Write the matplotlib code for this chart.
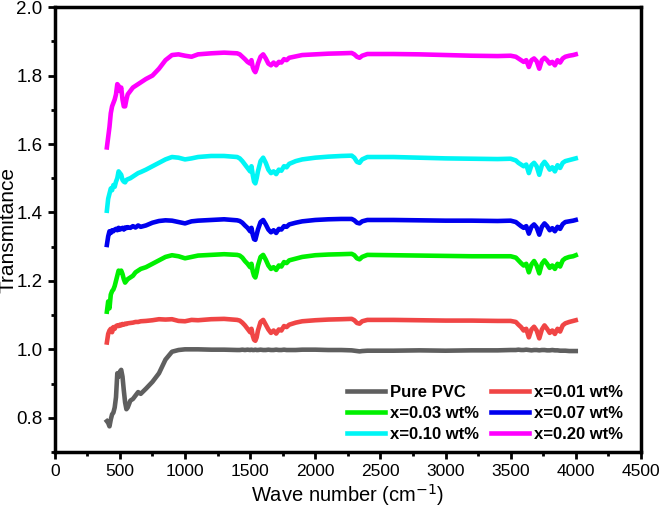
import matplotlib
matplotlib.use("Agg")
import matplotlib.pyplot as plt

plt.rcParams['font.family'] = ['Liberation Sans', 'DejaVu Sans']

# wave numbers (cm-1), shared by all spectra
wn_low = [400, 410, 420, 430, 440, 450, 460, 470, 480, 490, 500, 510, 520, 530,
          540, 550, 560, 580, 600, 620, 640, 660, 700, 750, 800, 850, 900, 950,
          1000, 1050, 1100, 1200, 1300, 1400]
wn_band1 = [1420, 1440, 1460, 1480, 1500, 1510, 1520, 1530, 1540, 1550, 1560, 1580,
            1600, 1620, 1640, 1660, 1680, 1700, 1720, 1740, 1760, 1780, 1800]
wn_mid = [1850, 1900, 2000, 2100, 2200, 2280, 2300, 2320, 2340, 2360, 2400, 2600,
          2800, 3000, 3200, 3400, 3500]
wn_band2 = [3540, 3560, 3580, 3600, 3620, 3640, 3660, 3680, 3700, 3720, 3740, 3760,
            3780, 3800, 3820, 3840, 3860, 3880, 3900, 3920, 3950, 3980, 4000]
wave = wn_low + wn_band1 + wn_mid + wn_band2

pure_pvc = ([0.79, 0.785, 0.775, 0.795, 0.81, 0.815, 0.83, 0.86, 0.93, 0.92, 0.935, 0.94,
             0.92, 0.88, 0.845, 0.825, 0.83, 0.85, 0.855, 0.865, 0.875, 0.87, 0.885, 0.905,
             0.93, 0.97, 0.993, 0.998, 1.0, 1.0, 1.0, 0.999, 0.999, 0.998]
            + [0.998, 0.999, 0.998, 0.999, 0.998, 0.999, 0.998, 0.998, 0.999, 0.998, 0.998,
               0.999, 0.998, 0.998, 0.999, 0.998, 0.998, 0.999, 0.998, 0.998, 0.999, 0.998, 0.998]
            + [0.998, 0.999, 0.999, 0.998, 0.998, 0.997, 0.996, 0.995, 0.994, 0.995, 0.996,
               0.996, 0.997, 0.996, 0.997, 0.997, 0.998]
            + [0.998, 0.999, 0.998, 0.998, 0.999, 0.998, 0.997, 0.998, 0.998, 0.997, 0.998,
               0.998, 0.997, 0.997, 0.998, 0.997, 0.997, 0.996, 0.996, 0.996, 0.995, 0.995, 0.995])

x001 = ([1.02, 1.045, 1.055, 1.06, 1.05, 1.065, 1.06, 1.068, 1.07, 1.068, 1.072, 1.07,
         1.074, 1.072, 1.075, 1.074, 1.076, 1.077, 1.078, 1.08, 1.08, 1.082, 1.083, 1.085,
         1.088, 1.087, 1.088, 1.083, 1.082, 1.086, 1.085, 1.088, 1.089, 1.086]
        + [1.084, 1.078, 1.07, 1.06, 1.05, 1.06, 1.04, 1.028, 1.025, 1.035, 1.055, 1.08,
           1.086, 1.072, 1.058, 1.048, 1.055, 1.046, 1.058, 1.055, 1.068, 1.065, 1.072]
        + [1.078, 1.082, 1.085, 1.087, 1.088, 1.089, 1.085, 1.077, 1.075, 1.082, 1.086,
           1.086, 1.085, 1.084, 1.084, 1.083, 1.083]
        + [1.08, 1.072, 1.065, 1.055, 1.06, 1.035, 1.058, 1.066, 1.055, 1.032, 1.058, 1.07,
           1.06, 1.048, 1.055, 1.045, 1.06, 1.052, 1.07, 1.076, 1.08, 1.083, 1.085])

x003 = ([1.11, 1.14, 1.12, 1.16, 1.17, 1.175, 1.185, 1.2, 1.215, 1.23, 1.225, 1.23,
         1.22, 1.205, 1.195, 1.2, 1.205, 1.21, 1.215, 1.225, 1.23, 1.235, 1.24, 1.25,
         1.26, 1.27, 1.275, 1.272, 1.266, 1.27, 1.274, 1.276, 1.278, 1.276]
        + [1.274, 1.268, 1.258, 1.25, 1.24, 1.25, 1.228, 1.215, 1.21, 1.225, 1.245, 1.27,
           1.276, 1.262, 1.245, 1.235, 1.24, 1.232, 1.245, 1.242, 1.255, 1.252, 1.26]
        + [1.265, 1.27, 1.275, 1.277, 1.278, 1.279, 1.275, 1.266, 1.263, 1.27, 1.276,
           1.275, 1.274, 1.273, 1.272, 1.272, 1.272]
        + [1.268, 1.26, 1.252, 1.245, 1.25, 1.225, 1.248, 1.258, 1.245, 1.222, 1.25, 1.26,
           1.25, 1.238, 1.245, 1.235, 1.25, 1.242, 1.26, 1.266, 1.27, 1.272, 1.275])

x007 = ([1.305, 1.33, 1.345, 1.34, 1.348, 1.345, 1.35, 1.352, 1.348, 1.355, 1.35, 1.352,
         1.355, 1.35, 1.356, 1.354, 1.357, 1.355, 1.36, 1.356, 1.362, 1.358, 1.362, 1.37,
         1.375, 1.377, 1.376, 1.372, 1.368, 1.374, 1.376, 1.378, 1.38, 1.377]
        + [1.375, 1.37, 1.362, 1.355, 1.345, 1.355, 1.335, 1.322, 1.32, 1.335, 1.35, 1.372,
           1.378, 1.365, 1.35, 1.342, 1.348, 1.34, 1.352, 1.35, 1.36, 1.358, 1.365]
        + [1.37, 1.374, 1.378, 1.38, 1.381, 1.381, 1.377, 1.37, 1.368, 1.374, 1.378,
           1.378, 1.377, 1.376, 1.376, 1.375, 1.376]
        + [1.372, 1.366, 1.36, 1.355, 1.36, 1.338, 1.358, 1.365, 1.356, 1.335, 1.358, 1.368,
           1.36, 1.348, 1.354, 1.345, 1.358, 1.352, 1.366, 1.372, 1.374, 1.376, 1.378])

x010 = ([1.405, 1.44, 1.455, 1.47, 1.465, 1.48, 1.475, 1.49, 1.5, 1.52, 1.515, 1.51,
         1.495, 1.49, 1.488, 1.495, 1.497, 1.5, 1.505, 1.51, 1.515, 1.518, 1.525, 1.535,
         1.545, 1.555, 1.562, 1.56, 1.555, 1.558, 1.562, 1.565, 1.565, 1.562]
        + [1.558, 1.55, 1.54, 1.53, 1.52, 1.535, 1.51, 1.49, 1.485, 1.5, 1.52, 1.55,
           1.56, 1.545, 1.525, 1.515, 1.52, 1.512, 1.525, 1.522, 1.535, 1.532, 1.542]
        + [1.55, 1.555, 1.56, 1.563, 1.565, 1.566, 1.56, 1.548, 1.545, 1.555, 1.562,
           1.562, 1.56, 1.558, 1.557, 1.556, 1.557]
        + [1.552, 1.545, 1.54, 1.535, 1.54, 1.515, 1.538, 1.545, 1.535, 1.51, 1.538, 1.548,
           1.538, 1.525, 1.532, 1.52, 1.538, 1.53, 1.545, 1.55, 1.553, 1.556, 1.558])

x020 = ([1.59, 1.62, 1.65, 1.69, 1.71, 1.72, 1.73, 1.745, 1.775, 1.77, 1.755, 1.765,
         1.73, 1.71, 1.71, 1.73, 1.745, 1.755, 1.765, 1.77, 1.775, 1.78, 1.79, 1.8,
         1.82, 1.845, 1.86, 1.862, 1.858, 1.855, 1.862, 1.865, 1.867, 1.865]
        + [1.862, 1.855, 1.848, 1.84, 1.835, 1.845, 1.825, 1.815, 1.81, 1.82, 1.835, 1.855,
           1.862, 1.85, 1.835, 1.83, 1.838, 1.83, 1.84, 1.838, 1.848, 1.845, 1.852]
        + [1.856, 1.86, 1.862, 1.864, 1.865, 1.866, 1.862, 1.855, 1.852, 1.858, 1.863,
           1.863, 1.862, 1.86, 1.858, 1.857, 1.858]
        + [1.855, 1.85, 1.845, 1.84, 1.845, 1.825, 1.845, 1.85, 1.842, 1.82, 1.845, 1.852,
           1.845, 1.835, 1.84, 1.83, 1.845, 1.838, 1.85, 1.855, 1.858, 1.86, 1.862])

series = [pure_pvc, x001, x003, x007, x010, x020]
labels = ['Pure PVC', 'x=0.01 wt%', 'x=0.03 wt%', 'x=0.07 wt%', 'x=0.10 wt%', 'x=0.20 wt%']
colors = ['#5f5f5f', '#f04545', '#00f000', '#0000ee', '#00f5f5', '#ff00ff']

fig = plt.figure(figsize=(6.6, 5.09), dpi=100)
ax = fig.add_axes([0.083, 0.112, 0.888, 0.874])

lines = []
for y, lab, c in zip(series, labels, colors):
    ln, = ax.plot(wave, y, color=c, lw=3.3, label=lab, solid_joinstyle='round')
    lines.append(ln)

ax.set_xlim(0, 4500)
ax.set_ylim(0.7, 2.0)
ax.set_xticks(range(0, 4501, 500))
ax.set_xticks(range(250, 4500, 500), minor=True)
ax.set_yticks([0.8, 1.0, 1.2, 1.4, 1.6, 1.8, 2.0])
ax.set_yticks([0.7, 0.9, 1.1, 1.3, 1.5, 1.7, 1.9], minor=True)

for s in ax.spines.values():
    s.set_linewidth(2.5)
ax.tick_params(which='major', direction='out', length=5, width=2, pad=4)
ax.tick_params(which='minor', direction='out', length=3, width=2)
ax.tick_params(axis='x', labelsize=12.5)
ax.tick_params(axis='y', labelsize=13.5)

ax.set_xlabel('Wave number (cm$^{-1}$)', fontsize=14.5, labelpad=2)
ax.set_ylabel('Transmitance', fontsize=15)
ax.yaxis.set_label_coords(-0.063, 0.5)

# legend filled row by row like the original
order = [0, 2, 4, 1, 3, 5]
ax.legend([lines[i] for i in order], [labels[i] for i in order],
          loc='lower right', bbox_to_anchor=(0.995, -0.012), ncol=2, frameon=False,
          prop={'weight': 'bold', 'size': 12}, handlelength=2.3, handletextpad=0.3,
          columnspacing=0.7, labelspacing=0.38)

fig.savefig('out.png', dpi=100)
